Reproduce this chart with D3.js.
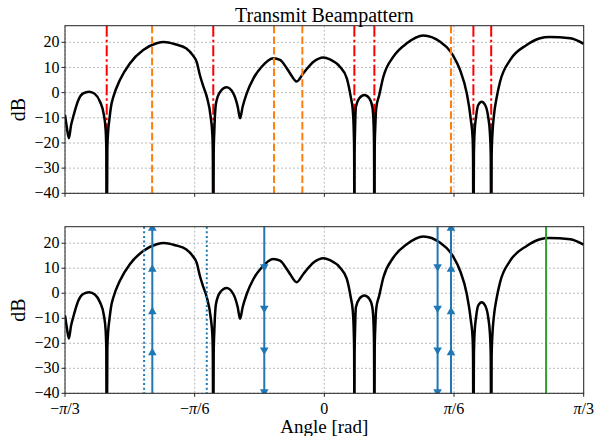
<!DOCTYPE html>
<html>
<head>
<meta charset="utf-8">
<script src="https://cdn.jsdelivr.net/npm/d3@7"></script>
<style>
  body { margin: 0; background: #fff; }
  text { font-family: "Liberation Serif", "DejaVu Serif", serif; fill: #000; }
</style>
</head>
<body>
<script>
var beamAngles = [-60.0, -59.6, -59.1, -58.6, -58.1, -56.9, -55.8, -54.4, -53.1, -51.9,
  -51.0, -50.6, -50.45, -50.35, -50.2, -50.0, -49.75, -49.3, -48.8, -47.3,
  -45.0, -41.9, -38.8, -37.1, -34.5, -32.0, -30.5, -29.5, -28.8, -28.0,
  -27.2, -26.3, -25.9, -25.8, -25.7, -25.6, -25.45, -25.06, -24.1, -22.6,
  -21.06, -20.04, -19.5, -18.9, -17.96, -16.4, -14.5, -11.8, -10.25, -8.7,
  -7.94, -6.4, -4.86, -2.5, -0.2, 1.3, 3.6, 5.2, 6.1, 6.57,
  6.8, 6.9, 6.94, 7.0, 7.1, 7.3, 8.1, 9.26, 10.4, 11.1,
  11.4, 11.5, 11.57, 11.65, 11.8, 12.0, 12.7, 13.65, 15.97, 19.07,
  22.9, 26.8, 29.1, 29.85, 31.4, 32.95, 33.9, 34.3, 34.4, 34.48,
  34.6, 34.75, 35.1, 35.6, 36.4, 37.2, 37.9, 38.3, 38.5, 38.6,
  38.7, 38.9, 39.2, 39.9, 40.65, 43.0, 46.8, 49.9, 52.0, 56.9, 60.0];
var beamDb = [-8.9, -13.5, -18.1, -13.0, -9.6, -2.9, -0.3, 0.4, -0.5, -3.6,
  -8.9, -14.8, -22, -80, -22, -15, -10.9, -5.0, -1.6, 5.0,
  11.6, 16.9, 19.6, 20.1, 19.2, 17.6, 15.0, 12.0, 7.0, 2.5,
  -1.6, -9.6, -17, -24, -80, -24, -15, -4.2, 0.4, 2.1,
  -0.3, -5.6, -10.2, -5.6, -0.3, 5.7, 10.3, 13.7, 13.0, 9.7,
  7.7, 4.4, 7.7, 12.3, 14.0, 13.2, 10.3, 5.7, -1.6, -6.9,
  -15, -24, -80, -24, -15, -5.6, -2.2, -0.9, -2.2, -5.6,
  -13, -22, -80, -22, -13, -6.2, -0.9, 6.3, 14.3, 19.6,
  22.7, 20.2, 16.5, 14.5, 9.0, -0.3, -10.9, -18, -25, -80,
  -25, -16, -9.6, -4.9, -3.6, -4.9, -9.6, -16, -25, -80,
  -25, -16, -9.6, -1.6, 4.35, 13.0, 18.9, 21.6, 22.1, 21.6, 19.4];

// top panel markers
var nullAngles = [-50.35, -25.7, 6.94, 11.57, 34.48, 38.6];
var beamDirs = [-39.85, -11.64, -5.09, 29.3];

// bottom panel markers
var upAngles = [-39.8, 29.3];
var downAngles = [-13.9, 26.2];
var dottedAngles = [-41.7, -27.2];
var greenAngles = [51.3];
var upMarkDb = [-23.8, -7.4, 9.6, 26.0];
var downMarkDb = [10.6, -6.0, -22.7, -39.4];

var yTicks = [-40, -30, -20, -10, 0, 10, 20];
var xTicks = [-60, -30, 0, 30, 60];
var xTickLabels = ["−π/3", "−π/6", "0", "π/6", "π/3"];

var width = 598, height = 436;
var left = 65, right = 583.7;
var panels = [{top: 25.7, bottom: 193.3}, {top: 226.7, bottom: 393.3}];

var svg = d3.select("body").append("svg")
  .attr("width", width)
  .attr("height", height);

var x = d3.scaleLinear().domain([-60, 60]).range([left, right]);

var pts = beamAngles.map(function(a, i) { return [a, beamDb[i]]; });

panels.forEach(function(p, k) {
  var y = d3.scaleLinear().domain([-40, 26.6]).range([p.bottom, p.top]);
  var g = svg.append("g");

  g.append("clipPath").attr("id", "clip" + k)
    .append("rect")
    .attr("x", left).attr("y", p.top)
    .attr("width", right - left).attr("height", p.bottom - p.top);

  // grid
  g.selectAll(".hg").data(yTicks).enter().append("line")
    .attr("x1", left).attr("x2", right)
    .attr("y1", function(d) { return y(d); }).attr("y2", function(d) { return y(d); })
    .attr("stroke", "#aaa").attr("stroke-width", 0.8).attr("stroke-dasharray", "2,2");
  g.selectAll(".vg").data(xTicks).enter().append("line")
    .attr("x1", function(d) { return x(d); }).attr("x2", function(d) { return x(d); })
    .attr("y1", p.top).attr("y2", p.bottom)
    .attr("stroke", "#aaa").attr("stroke-width", 0.8).attr("stroke-dasharray", "2,2");

  var plot = g.append("g").attr("clip-path", "url(#clip" + k + ")");

  function vline(list, color, w, dash) {
    plot.selectAll(null).data(list).enter().append("line")
      .attr("x1", function(d) { return x(d); }).attr("x2", function(d) { return x(d); })
      .attr("y1", p.top).attr("y2", p.bottom)
      .attr("stroke", color).attr("stroke-width", w)
      .attr("stroke-dasharray", dash);
  }

  if (k == 0) vline(nullAngles, "#ff0000", 2, "11,3,2.5,3");

  var line = d3.line()
    .x(function(d) { return x(d[0]); })
    .y(function(d) { return y(Math.max(d[1], -70)); })
    .curve(d3.curveMonotoneX);
  plot.append("path")
    .attr("d", line(pts))
    .attr("fill", "none")
    .attr("stroke", "#000")
    .attr("stroke-width", 2.5);

  if (k == 0) {
    vline(beamDirs, "#ff7f0e", 2, "7.5,3.2");
  } else {
    vline(dottedAngles, "#1f77b4", 2, "2,2.6");
    vline(upAngles, "#1f77b4", 2, null);
    vline(downAngles, "#1f77b4", 2, null);
    vline(greenAngles, "#2ca02c", 2, null);
    var tri = d3.symbol().type(d3.symbolTriangle).size(32);
    upAngles.forEach(function(a) {
      plot.selectAll(null).data(upMarkDb).enter().append("path")
        .attr("d", tri)
        .attr("transform", function(d) { return "translate(" + x(a) + "," + y(d) + ")"; })
        .attr("fill", "#1f77b4");
    });
    downAngles.forEach(function(a) {
      plot.selectAll(null).data(downMarkDb).enter().append("path")
        .attr("d", tri)
        .attr("transform", function(d) { return "translate(" + x(a) + "," + y(d) + ") rotate(180)"; })
        .attr("fill", "#1f77b4");
    });
  }

  // frame
  g.append("rect")
    .attr("x", left).attr("y", p.top)
    .attr("width", right - left).attr("height", p.bottom - p.top)
    .attr("fill", "none").attr("stroke", "#222").attr("stroke-width", 1);

  // y ticks
  g.selectAll(".yt").data(yTicks).enter().append("line")
    .attr("x1", left - 3.5).attr("x2", left)
    .attr("y1", function(d) { return y(d); }).attr("y2", function(d) { return y(d); })
    .attr("stroke", "#222");
  g.selectAll(".yl").data(yTicks).enter().append("text")
    .attr("x", left - 5.5).attr("y", function(d) { return y(d); })
    .attr("dy", "0.32em")
    .attr("text-anchor", "end")
    .attr("font-size", "16px")
    .text(function(d) { return d < 0 ? "−" + Math.abs(d) : d; });

  // x ticks
  g.selectAll(".xt").data(xTicks).enter().append("line")
    .attr("x1", function(d) { return x(d); }).attr("x2", function(d) { return x(d); })
    .attr("y1", p.bottom).attr("y2", p.bottom + 3.5)
    .attr("stroke", "#222");

  g.append("text")
    .attr("transform", "translate(18," + ((p.top + p.bottom) / 2) + ") rotate(-90)")
    .attr("text-anchor", "middle")
    .attr("dy", "0.35em")
    .attr("font-size", "20px")
    .text("dB");

  if (k == 1) {
    g.selectAll(".xl").data(xTicks).enter().append("text")
      .attr("x", function(d) { return x(d); })
      .attr("y", p.bottom + 20.5)
      .attr("text-anchor", "middle")
      .attr("font-size", "16px")
      .each(function(d, i) {
        var t = d3.select(this);
        var parts = xTickLabels[i].split("π");
        if (parts.length == 1) { t.text(parts[0]); return; }
        t.append("tspan").text(parts[0]);
        t.append("tspan").attr("font-style", "italic").text("π");
        t.append("tspan").text(parts[1]);
      });
  }
});

svg.append("text")
  .attr("x", (left + right) / 2).attr("y", 22)
  .attr("text-anchor", "middle")
  .attr("font-size", "20px")
  .text("Transmit Beampattern");

svg.append("text")
  .attr("x", (left + right) / 2).attr("y", 433)
  .attr("text-anchor", "middle")
  .attr("font-size", "19px")
  .text("Angle [rad]");
</script>
</body>
</html>
